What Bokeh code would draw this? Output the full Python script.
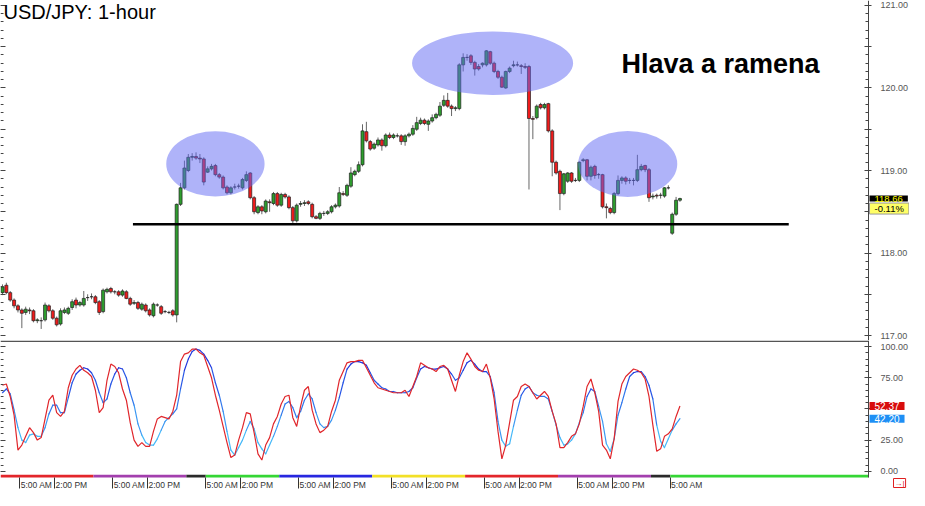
from bokeh.plotting import figure
from bokeh.layouts import column
from bokeh.models import (ColumnDataSource, FixedTicker, LinearAxis, Range1d,
                          Label)
from bokeh.transform import linear_cmap
from bokeh.embed import file_html
from bokeh.resources import INLINE

# ---------------- data (USD/JPY 1-hour candles) ----------------
OPEN = [
    117.52, 117.61, 117.52, 117.43, 117.36, 117.31, 117.28, 117.31, 117.30, 117.18,
    117.18, 117.19, 117.36, 117.30, 117.21, 117.14, 117.28, 117.27, 117.34, 117.43,
    117.37, 117.37, 117.46, 117.47, 117.47, 117.41, 117.29, 117.53, 117.57, 117.53,
    117.53, 117.49, 117.53, 117.45, 117.39, 117.40, 117.32, 117.37, 117.31, 117.24,
    117.37, 117.35, 117.29, 117.28, 117.30,
    117.25, 118.59, 118.79, 119.00, 119.16, 119.17, 119.15, 119.14, 118.98, 119.02,
    119.06, 118.95, 118.92, 118.80, 118.73, 118.80, 118.81, 118.79, 118.88, 118.97,
    118.67, 118.49, 118.56, 118.50, 118.62, 118.60, 118.72, 118.58, 118.71, 118.68,
    118.55, 118.39, 118.59, 118.60, 118.62, 118.59, 118.44, 118.42, 118.48, 118.48,
    118.50, 118.56, 118.57,
    118.72, 118.70, 118.81, 118.95, 118.99, 119.07, 119.47, 119.35, 119.27, 119.31,
    119.37, 119.30, 119.43, 119.40, 119.42, 119.42, 119.35, 119.42, 119.44, 119.50,
    119.57, 119.61, 119.56, 119.60, 119.64, 119.67, 119.79, 119.85, 119.78, 119.75,
    119.75, 120.28, 120.37, 120.39, 120.31, 120.26, 120.28, 120.28, 120.44, 120.30,
    120.20, 120.13, 120.00, 120.20, 120.27, 120.28, 120.27, 120.26, 120.26,
    119.63, 119.64, 119.80, 119.76, 119.81, 119.48, 119.10, 118.99, 118.72, 118.87,
    118.97, 118.88, 118.88, 119.12, 119.13, 118.93, 119.05, 118.95, 118.95, 118.56,
    118.54, 118.49, 118.72, 118.88, 118.91, 118.88, 118.88, 118.88, 119.01, 119.06,
    119.01, 118.68, 118.70, 118.70, 118.69, 118.79, 118.24, 118.47, 118.64,
]
HIGH = [
    117.62, 117.64, 117.54, 117.45, 117.38, 117.33, 117.35, 117.34, 117.32, 117.21,
    117.22, 117.40, 117.38, 117.32, 117.23, 117.33, 117.34, 117.35, 117.44, 117.46,
    117.42, 117.54, 117.50, 117.51, 117.49, 117.43, 117.57, 117.58, 117.59, 117.55,
    117.55, 117.56, 117.55, 117.47, 117.43, 117.42, 117.40, 117.39, 117.33, 117.40,
    117.39, 117.37, 117.31, 117.30, 117.32,
    118.60, 118.85, 119.12, 119.20, 119.21, 119.22, 119.20, 119.16, 119.05, 119.08,
    119.08, 118.97, 118.94, 118.82, 118.81, 118.84, 118.84, 118.91, 118.99, 118.98,
    118.69, 118.58, 118.58, 118.65, 118.65, 118.74, 118.74, 118.73, 118.73, 118.70,
    118.57, 118.60, 118.63, 118.64, 118.64, 118.61, 118.46, 118.50, 118.51, 118.52,
    118.58, 118.60, 118.80,
    118.75, 118.84, 119.04, 119.01, 119.11, 119.56, 119.59, 119.37, 119.34, 119.40,
    119.39, 119.45, 119.46, 119.45, 119.45, 119.44, 119.44, 119.46, 119.55, 119.65,
    119.64, 119.63, 119.62, 119.68, 119.70, 119.83, 119.91, 119.94, 119.80, 119.78,
    120.30, 120.42, 120.41, 120.41, 120.33, 120.29, 120.31, 120.46, 120.45, 120.32,
    120.22, 120.15, 120.21, 120.26, 120.33, 120.32, 120.29, 120.30, 120.28,
    119.66, 119.80, 119.82, 119.82, 119.82, 119.50, 119.12, 119.01, 118.97, 118.98,
    118.98, 118.91, 119.11, 119.15, 119.14, 119.06, 119.07, 118.97, 118.96, 118.60,
    118.56, 118.74, 118.94, 118.93, 118.93, 118.91, 118.91, 119.19, 119.08, 119.07,
    119.03, 118.72, 118.72, 118.73, 118.80, 118.82, 118.49, 118.68, 118.67,
]
LOW = [
    117.49, 117.50, 117.41, 117.33, 117.28, 117.09, 117.25, 117.26, 117.16, 117.15,
    117.08, 117.17, 117.28, 117.19, 117.11, 117.12, 117.26, 117.25, 117.31, 117.33,
    117.35, 117.35, 117.42, 117.44, 117.38, 117.25, 117.27, 117.51, 117.51, 117.50,
    117.47, 117.47, 117.44, 117.36, 117.37, 117.31, 117.30, 117.28, 117.23, 117.22,
    117.35, 117.25, 117.27, 117.26, 117.23,
    117.16, 118.57, 118.77, 118.98, 119.12, 119.13, 119.09, 118.82, 118.97, 119.00,
    118.93, 118.90, 118.77, 118.71, 118.71, 118.77, 118.78, 118.77, 118.86, 118.65,
    118.47, 118.47, 118.47, 118.48, 118.50, 118.58, 118.56, 118.56, 118.66, 118.53,
    118.36, 118.37, 118.56, 118.57, 118.58, 118.42, 118.41, 118.40, 118.45, 118.46,
    118.48, 118.54, 118.55,
    118.69, 118.68, 118.79, 118.93, 118.97, 119.05, 119.34, 119.24, 119.25, 119.29,
    119.24, 119.28, 119.38, 119.38, 119.40, 119.31, 119.30, 119.40, 119.42, 119.48,
    119.55, 119.55, 119.48, 119.58, 119.62, 119.65, 119.77, 119.76, 119.66, 119.72,
    119.73, 120.20, 120.33, 120.28, 120.15, 120.21, 120.25, 120.26, 120.28, 120.18,
    120.11, 120.00, 119.99, 120.18, 120.25, 120.26, 120.17, 120.23, 118.77,
    119.38, 119.62, 119.74, 119.74, 119.46, 118.93, 118.95, 118.52, 118.70, 118.85,
    118.85, 118.86, 118.86, 119.10, 118.88, 118.88, 118.90, 118.90, 118.54, 118.42,
    118.47, 118.47, 118.70, 118.84, 118.83, 118.84, 118.82, 118.86, 118.99, 118.98,
    118.62, 118.65, 118.66, 118.66, 118.67, 118.77, 118.22, 118.45, 118.62,
]
CLOSE = [
    117.59, 117.52, 117.43, 117.36, 117.31, 117.27, 117.32, 117.30, 117.18, 117.19,
    117.18, 117.37, 117.30, 117.21, 117.13, 117.30, 117.31, 117.33, 117.41, 117.37,
    117.40, 117.45, 117.46, 117.47, 117.40, 117.28, 117.55, 117.56, 117.53, 117.53,
    117.49, 117.54, 117.45, 117.38, 117.40, 117.33, 117.38, 117.30, 117.25, 117.38,
    117.37, 117.27, 117.29, 117.28, 117.25,
    118.59, 118.79, 119.03, 119.16, 119.17, 119.15, 119.14, 118.86, 119.02, 119.05,
    118.95, 118.92, 118.79, 118.73, 118.79, 118.80, 118.81, 118.89, 118.95, 118.67,
    118.50, 118.56, 118.51, 118.63, 118.61, 118.72, 118.58, 118.71, 118.68, 118.55,
    118.39, 118.58, 118.60, 118.61, 118.60, 118.44, 118.42, 118.48, 118.48, 118.50,
    118.56, 118.58, 118.73,
    118.71, 118.82, 118.97, 118.99, 119.07, 119.48, 119.36, 119.26, 119.32, 119.37,
    119.30, 119.43, 119.40, 119.43, 119.42, 119.35, 119.42, 119.44, 119.51, 119.58,
    119.61, 119.57, 119.60, 119.64, 119.68, 119.78, 119.85, 119.78, 119.75, 119.76,
    120.28, 120.37, 120.37, 120.31, 120.23, 120.23, 120.30, 120.45, 120.30, 120.20,
    120.13, 120.01, 120.20, 120.24, 120.28, 120.28, 120.26, 120.25, 119.63,
    119.62, 119.78, 119.76, 119.80, 119.48, 119.10, 118.97, 118.72, 118.96, 118.97,
    118.87, 118.88, 119.10, 119.13, 118.93, 119.04, 118.94, 118.95, 118.56, 118.55,
    118.49, 118.72, 118.88, 118.91, 118.87, 118.88, 118.88, 119.01, 119.05, 119.01,
    118.67, 118.69, 118.69, 118.70, 118.79, 118.79, 118.47, 118.64, 118.66,
]

# Stochastic oscillator (%K red, %D blue)
STOCH_K = [
    69, 70, 60, 45, 17, 21, 28, 35, 31, 25,
    27, 42, 57, 61, 47, 44, 48, 67, 77, 82,
    85, 81, 79, 76, 65, 47, 51, 73, 86, 84,
    79, 66, 57, 39, 25, 20, 23, 20, 20, 32,
    42, 44, 43, 42, 48, 61, 88, 94, 95, 98,
    98, 95, 93, 84, 75, 61, 49, 36, 23, 11,
    13, 25, 35, 47, 46, 31, 14, 9, 21, 27,
    38, 44, 54, 60, 61, 43, 36, 52, 65, 68,
    49, 38, 31, 33, 36, 48, 57, 73, 80, 87,
    88, 88, 89, 89, 83, 77, 71, 67, 66, 65,
    64, 63, 63, 63, 65, 60, 68, 76, 87, 85,
    83, 82, 80, 84, 85, 82, 73, 64, 77, 88,
    95, 90, 84, 81, 80, 86, 75, 58, 32, 10,
    21, 39, 57, 60, 68, 70, 68, 63, 58, 61,
    64, 60, 48, 38, 19, 19, 23, 28, 30, 38,
    52, 68, 74, 63, 48, 21, 17, 10, 26, 56,
    70, 76, 79, 82, 81, 79, 74, 60, 37, 16,
    18, 28, 30, 34, 44, 52.37,
]
STOCH_D = [
    63, 66, 62, 49, 35, 25, 23, 29, 30, 28,
    28, 35, 46, 53, 53, 47, 47, 59, 71, 78,
    81, 83, 82, 79, 73, 63, 55, 58, 70, 78,
    83, 82, 75, 63, 53, 38, 29, 23, 21, 21,
    26, 33, 40, 43, 46, 50, 66, 81, 90, 96,
    98, 97, 94, 89, 83, 71, 61, 48, 32, 17,
    13, 19, 25, 33, 40, 34, 23, 18, 14, 21,
    28, 36, 45, 54, 56, 51, 43, 48, 57, 62,
    58, 47, 38, 35, 36, 41, 49, 59, 71, 82,
    86, 88, 88, 87, 85, 79, 73, 70, 67, 66,
    64, 64, 63, 63, 63, 64, 67, 75, 82, 84,
    83, 82, 82, 83, 84, 82, 78, 73, 75, 81,
    87, 89, 86, 82, 80, 80, 76, 63, 40, 25,
    20, 22, 36, 49, 61, 66, 68, 63, 61, 60,
    60, 58, 48, 37, 27, 21, 22, 25, 30, 39,
    47, 60, 66, 64, 52, 40, 22, 16, 26, 45,
    55, 66, 76, 79, 80, 80, 76, 69, 58, 37,
    24, 19, 26, 33, 38, 42.2,
]

PRICE_TICKS = [117.0, 117.5, 118.0, 118.5, 119.0, 119.5, 120.0, 120.5, 121.0]
PRICE_LABELS = ["117.00", "", "118.00", "", "119.00", "", "120.00", "", "121.00"]
STOCH_TICKS = [0, 25, 50, 75, 100]
STOCH_LABELS = ["0.00", "25.00", "", "75.00", "100.00"]

# hour ticks (bar index) and their labels
TIME_TICKS = [4.5, 13.5, 28.5, 37.5, 52.5, 61.5, 76.5, 85.5, 100.5, 109.5,
              124.5, 133.5, 148.5, 157.5, 172.5]
TIME_LABELS = ["5:00 AM", "2:00 PM"] * 7 + ["5:00 AM"]

# trading-day colour strip (bar index boundaries)
DAY_EDGES = [-0.5, 23.5, 47.5, 52.5, 71.5, 95.5, 119.5, 143.5, 167.5, 172.5, 223.7]
DAY_COLORS = ["#e3262b", "#a33fae", "#2a2a2a", "#35d635", "#2727e0",
              "#f2e027", "#e3262b", "#a33fae", "#2a2a2a", "#35d635"]

# head & shoulders annotations (bar index / price)
HILITE_X = [55.0, 126.6, 161.5]
HILITE_Y = [119.08, 120.30, 119.08]
HILITE_W = [25.4, 41.6, 25.6]
HILITE_H = [0.79, 0.77, 0.80]
NECK_X = [33.7, 203.1]
NECK_Y = 118.35

LAST_CHANGE = "-0.11%"

# ---------------- layout constants ----------------
W = 909              # whole width = frame width (axes pinned inside)
AXIS_X = 223.7       # bar-index position of the price scale
TOP_H = 340
STOCH_H = 137
BAND_H = 12          # time-label band
FONT = "Liberation Sans"

n = len(CLOSE)
idx = list(range(n))
src = ColumnDataSource(dict(
    x=idx, h=HIGH, l=LOW,
    top=[max(o, c) for o, c in zip(OPEN, CLOSE)],
    bottom=[min(o, c) for o, c in zip(OPEN, CLOSE)],
    color=["#2e9e2e" if c >= o else "#f01c1c" for o, c in zip(OPEN, CLOSE)],
))

px_per_bar = 868 / (AXIS_X + 0.51)
xr = Range1d(-0.51, -0.51 + W / px_per_bar)


def make_fig(h, yr):
    f = figure(frame_width=W, frame_height=h, x_range=xr, y_range=yr,
               output_backend="svg", toolbar_location=None,
               x_axis_location=None, y_axis_location=None,
               min_border_left=0, min_border_right=0, min_border_top=0,
               min_border_bottom=0, outline_line_color=None,
               background_fill_color="white", border_fill_color="white")
    f.grid.visible = False
    return f


def y_axes(ticker, labels_map, blank_map, bounds):
    ra = LinearAxis(ticker=ticker, major_label_overrides=labels_map,
                    fixed_location=AXIS_X, bounds=bounds)
    la = LinearAxis(ticker=ticker, major_label_overrides=blank_map,
                    fixed_location=xr.start, bounds=bounds)
    for ax in (ra, la):
        ax.axis_line_color = "#444444"
        ax.major_tick_line_color = "#444444"
        ax.minor_tick_line_color = "#444444"
        ax.major_label_text_font = FONT
        ax.major_label_text_font_size = "9px"
        ax.major_label_text_color = "#555555"
    ra.major_tick_in = 4
    ra.major_tick_out = 3
    ra.minor_tick_in = 3
    ra.minor_tick_out = 0
    ra.major_label_standoff = 9
    la.axis_line_color = None
    la.major_tick_in = 5
    la.major_tick_out = 0
    la.minor_tick_in = 3
    la.minor_tick_out = 0
    la.major_label_standoff = 0
    return ra, la


def value_box(fig, y, text, fg, bg, size="9.5px", y_offset=0, border=None):
    fig.add_layout(Label(x=AXIS_X, y=y, x_offset=1, y_offset=y_offset,
                         text=text, text_font=FONT, text_font_size=size,
                         text_color=fg, text_align="left", text_baseline="middle",
                         background_fill_color=bg, border_line_color=border,
                         padding=(5, 0)))


# ---------------- price panel ----------------
p = make_fig(TOP_H, Range1d(116.94, 121.06))

p.segment(x0="x", y0="l", x1="x", y1="h", source=src,
          line_color="#666666", line_width=1)
p.vbar(x="x", width=0.78, top="top", bottom="bottom", source=src,
       fill_color="color", line_color="#202020", line_width=0.7)
p.ellipse(x=HILITE_X, y=HILITE_Y, width=HILITE_W, height=HILITE_H,
          fill_color="#6068f4", fill_alpha=0.5, line_color=None)
p.segment(x0=[NECK_X[0]], y0=[NECK_Y], x1=[NECK_X[1]], y1=[NECK_Y],
          line_color="black", line_width=2.5)

price_ticker = FixedTicker(ticks=PRICE_TICKS,
                           minor_ticks=[round(116.9 + 0.1 * k, 2) for k in range(43)])
ra, la = y_axes(price_ticker, dict(zip(PRICE_TICKS, PRICE_LABELS)),
                {t: "" for t in PRICE_TICKS}, (116.94, 121.06))
p.add_layout(ra, "right")
p.add_layout(la, "left")

p.add_layout(Label(x=3, y=TOP_H, x_units="screen", y_units="screen",
                   text="USD/JPY: 1-hour", text_font=FONT, text_font_size="20px",
                   text_color="black", text_baseline="top"))
p.add_layout(Label(x=621, y=TOP_H - 48, x_units="screen", y_units="screen",
                   text="Hlava a ramena", text_font=FONT, text_font_size="27px",
                   text_font_style="bold", text_color="black",
                   text_baseline="top"))
value_box(p, CLOSE[-1], f"{CLOSE[-1]:.2f}", "#ffff00", "black")
value_box(p, CLOSE[-1], LAST_CHANGE, "black", "#ffff66", y_offset=-10,
          border="#999999")

# ---------------- stochastic panel ----------------
px_per_pct = STOCH_H / 109.9
stoch_top = 104.9
strip_bottom = -5.0
p2 = make_fig(STOCH_H + BAND_H,
              Range1d(strip_bottom - BAND_H / px_per_pct, stoch_top))

# separator between the two panels
p2.segment(x0=[xr.start], y0=[stoch_top - 0.6], x1=[AXIS_X], y1=[stoch_top - 0.6],
           line_color="#555555", line_width=1.5)
p2.quad(left=DAY_EDGES[:-1], right=DAY_EDGES[1:], bottom=strip_bottom,
        top=strip_bottom + 2.2, fill_color=DAY_COLORS, line_color=None)

dsrc = ColumnDataSource(dict(
    x0=idx[:-1], x1=idx[1:], y0=STOCH_D[:-1], y1=STOCH_D[1:],
    ym=[(a + b) / 2 for a, b in zip(STOCH_D[:-1], STOCH_D[1:])],
))
p2.segment(x0="x0", y0="y0", x1="x1", y1="y1", source=dsrc, line_width=1.2,
           line_cap="round",
           line_color=linear_cmap("ym", ["#46b8f8", "#3c98f2", "#3278ec",
                                         "#2a58e6", "#2238de"], 15, 95))
p2.line(idx, STOCH_K, line_color="#e0262b", line_width=1.2)

stoch_ticker = FixedTicker(ticks=STOCH_TICKS, minor_ticks=list(range(0, 101, 5)))
ra2, la2 = y_axes(stoch_ticker, dict(zip(STOCH_TICKS, STOCH_LABELS)),
                  {t: "" for t in STOCH_TICKS}, (strip_bottom, stoch_top))
p2.add_layout(ra2, "right")
p2.add_layout(la2, "left")

# time axis: one axis draws the hour ticks, a second one the labels just after them
tick_axis = LinearAxis(ticker=FixedTicker(ticks=TIME_TICKS),
                       major_label_overrides={t: "" for t in TIME_TICKS},
                       fixed_location=strip_bottom)
tick_axis.axis_line_color = None
tick_axis.major_tick_in = 0
tick_axis.major_tick_out = 11
tick_axis.major_tick_line_color = "#333333"
tick_axis.minor_tick_line_color = None
p2.add_layout(tick_axis, "below")

label_pos = [t + 4.3 for t in TIME_TICKS]
lab_axis = LinearAxis(ticker=FixedTicker(ticks=label_pos),
                      major_label_overrides=dict(zip(label_pos, TIME_LABELS)),
                      fixed_location=strip_bottom)
lab_axis.axis_line_color = None
lab_axis.major_tick_line_color = None
lab_axis.minor_tick_line_color = None
lab_axis.major_tick_in = 0
lab_axis.major_tick_out = 0
lab_axis.major_label_standoff = 2
lab_axis.major_label_text_font = FONT
lab_axis.major_label_text_font_size = "8.5px"
lab_axis.major_label_text_color = "#333333"
p2.add_layout(lab_axis, "below")

value_box(p2, STOCH_K[-1], f"{STOCH_K[-1]:.2f}", "white", "#d80c0c", size="10px")
value_box(p2, STOCH_D[-1], f"{STOCH_D[-1]:.2f}", "white", "#1e8ff5", size="10px")
p2.add_layout(Label(x=893, y=11, x_units="screen", y_units="screen",
                    text="→|", text_font=FONT, text_font_size="8px",
                    text_color="#e02020", text_baseline="top",
                    border_line_color="#e02020", background_fill_color="white",
                    padding=(1, 0)))

layout = column(p, p2)
open("out.html", "w").write(file_html(layout, INLINE))
